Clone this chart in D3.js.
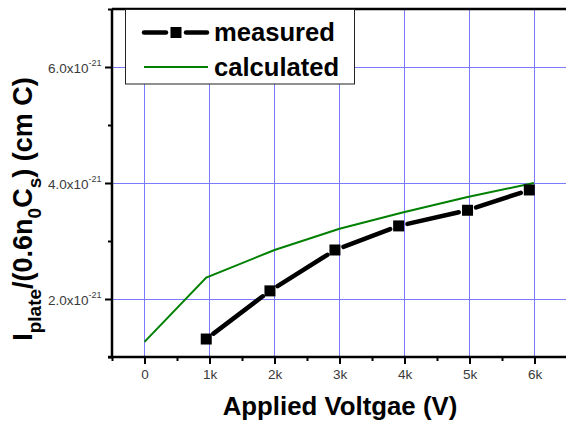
<!DOCTYPE html>
<html><head><meta charset="utf-8">
<script src="https://cdn.jsdelivr.net/npm/d3@7/dist/d3.min.js"></script>
<style>
body{margin:0;background:#fff;}
svg{display:block;font-family:"Liberation Sans",Arial,sans-serif;}
</style></head>
<body>
<script>
// ---- data ----
const measuredVoltage = [950, 1930, 2930, 3910, 4970, 5920];
const measuredValues  = [1.31e-21, 2.14e-21, 2.845e-21, 3.26e-21, 3.53e-21, 3.88e-21];
const calcVoltage     = [0, 950, 2000, 3000, 3970, 4970, 5990];
const calcValues      = [1.26e-21, 2.37e-21, 2.845e-21, 3.21e-21, 3.49e-21, 3.76e-21, 4.0e-21];
const xMajorTicks = [0, 1000, 2000, 3000, 4000, 5000, 6000];
const xTickLabels = ["0", "1k", "2k", "3k", "4k", "5k", "6k"];
const xMinorTicks = [-500, 500, 1500, 2500, 3500, 4500, 5500, 6500];
const yMajorTicks = [2e-21, 4e-21, 6e-21];
const yMinorTicks = [1e-21, 3e-21, 5e-21, 7e-21];
const legendLabels = ["measured", "calculated"];

const W = 566, H = 424;
const FF = "Liberation Sans, Arial, sans-serif";
const svg = d3.select("body").append("svg").attr("width", W).attr("height", H);

const x = d3.scaleLinear().domain([-500, 6500]).range([112, 567]);
const y = d3.scaleLinear().domain([1e-21, 7e-21]).range([357, 9]);

const grid = "#7a7aff";
// gridlines
svg.append("g").selectAll("line").data(xMajorTicks).join("line")
  .attr("x1", d => x(d)).attr("x2", d => x(d))
  .attr("y1", y(1e-21)).attr("y2", y(7e-21))
  .attr("stroke", grid).attr("stroke-width", 1).attr("shape-rendering", "crispEdges");
svg.append("g").selectAll("line").data(yMajorTicks).join("line")
  .attr("x1", x(-500)).attr("x2", W)
  .attr("y1", d => Math.round(y(d)) + 0.5).attr("y2", d => Math.round(y(d)) + 0.5)
  .attr("stroke", grid).attr("stroke-width", 1);

// axes
const xAxis = d3.axisBottom(x).tickValues(xMajorTicks).tickSize(7)
  .tickFormat((d, i) => xTickLabels[i]).tickPadding(5);
const gx = svg.append("g").attr("transform", `translate(0,${y(1e-21)})`).call(xAxis);
gx.select(".domain").remove();
gx.selectAll(".tick line").attr("stroke", "#000").attr("stroke-width", 2);
gx.selectAll(".tick text").attr("font-size", 13.5).attr("fill", "#3a3a3a")
  .attr("font-family", FF);
const gxm = svg.append("g").attr("transform", `translate(0,${y(1e-21)})`)
  .call(d3.axisBottom(x).tickValues(xMinorTicks).tickSize(4).tickFormat(""));
gxm.select(".domain").remove();
gxm.selectAll(".tick line").attr("stroke", "#000").attr("stroke-width", 2);

const yAxis = d3.axisLeft(y).tickValues(yMajorTicks).tickSize(7).tickFormat("");
const gy = svg.append("g").attr("transform", `translate(${x(-500)},0)`).call(yAxis);
gy.select(".domain").remove();
gy.selectAll(".tick line").attr("stroke", "#000").attr("stroke-width", 2);
const gym = svg.append("g").attr("transform", `translate(${x(-500)},0)`)
  .call(d3.axisLeft(y).tickValues(yMinorTicks).tickSize(4).tickFormat(""));
gym.select(".domain").remove();
gym.selectAll(".tick line").attr("stroke", "#000").attr("stroke-width", 2);

// y tick labels with superscript
const yl = svg.append("g").selectAll("text").data(yMajorTicks).join("text")
  .attr("x", 101.5).attr("y", d => y(d) + 5.5).attr("text-anchor", "end")
  .attr("font-size", 13.5).attr("fill", "#3a3a3a").attr("font-family", FF);
yl.append("tspan").text(d => (d / 1e-21).toFixed(1) + "x10");
yl.append("tspan").attr("font-size", 9).attr("dy", -7).text("-21");

// axis lines
svg.append("line").attr("x1", x(-500) - 4).attr("x2", W).attr("y1", y(1e-21)).attr("y2", y(1e-21))
  .attr("stroke", "#000").attr("stroke-width", 2.5);
svg.append("line").attr("x1", x(-500)).attr("x2", x(-500)).attr("y1", y(7e-21)).attr("y2", y(1e-21))
  .attr("stroke", "#000").attr("stroke-width", 2.5);
svg.append("line").attr("x1", x(-500)).attr("x2", W).attr("y1", y(7e-21)).attr("y2", y(7e-21))
  .attr("stroke", "#000").attr("stroke-width", 2.5);

// calculated line
const calcPts = calcVoltage.map((v, i) => [x(v), y(calcValues[i])]);
svg.append("path").attr("d", d3.line()(calcPts))
  .attr("fill", "none").attr("stroke", "#008000").attr("stroke-width", 2);

// measured line segments with gaps around markers
const mPts = measuredVoltage.map((v, i) => [x(v), y(measuredValues[i])]);
const gap = 9;
const segs = [];
for (let i = 0; i < mPts.length - 1; i++) {
  const [x1, y1] = mPts[i], [x2, y2] = mPts[i + 1];
  const dx = x2 - x1, dy = y2 - y1, L = Math.hypot(dx, dy);
  segs.push([[x1 + dx / L * gap, y1 + dy / L * gap], [x2 - dx / L * gap, y2 - dy / L * gap]]);
}
svg.append("g").selectAll("path").data(segs).join("path")
  .attr("d", d => d3.line()(d)).attr("stroke", "#000").attr("stroke-width", 4.5)
  .attr("stroke-linecap", "round").attr("fill", "none");
const ms = 11;
svg.append("g").selectAll("rect").data(mPts).join("rect")
  .attr("x", d => d[0] - ms / 2).attr("y", d => d[1] - ms / 2)
  .attr("width", ms).attr("height", ms).attr("fill", "#000");

// legend
const lg = svg.append("g");
lg.append("rect").attr("x", 125.5).attr("y", 9.5).attr("width", 229).attr("height", 74.5)
  .attr("fill", "#fff").attr("stroke", "#222").attr("stroke-width", 1);
lg.append("line").attr("x1", 144).attr("x2", 166).attr("y1", 32.5).attr("y2", 32.5)
  .attr("stroke", "#000").attr("stroke-width", 4.5).attr("stroke-linecap", "round");
lg.append("line").attr("x1", 186).attr("x2", 207).attr("y1", 32.5).attr("y2", 32.5)
  .attr("stroke", "#000").attr("stroke-width", 4.5).attr("stroke-linecap", "round");
lg.append("rect").attr("x", 176 - ms / 2).attr("y", 32.5 - ms / 2).attr("width", ms).attr("height", ms).attr("fill", "#000");
lg.append("line").attr("x1", 144).attr("x2", 208).attr("y1", 67).attr("y2", 67)
  .attr("stroke", "#008000").attr("stroke-width", 2);
lg.selectAll("text").data(legendLabels).join("text")
  .attr("x", 214).attr("y", (d, i) => i === 0 ? 41 : 75.5)
  .attr("font-size", 25.6).attr("font-weight", "bold").attr("fill", "#000").text(d => d);

// axis titles
svg.append("text").attr("x", 340).attr("y", 415).attr("text-anchor", "middle")
  .attr("font-size", 25.8).attr("font-weight", "bold").text("Applied Voltgae (V)");

const yt = svg.append("text").attr("transform", "translate(32,209) rotate(-90)")
  .attr("text-anchor", "middle").attr("font-size", 27).attr("font-weight", "bold");
yt.append("tspan").text("I");
yt.append("tspan").attr("font-size", 19).attr("dy", 9).text("plate");
yt.append("tspan").attr("dy", -9).text("/(0.6n");
yt.append("tspan").attr("font-size", 19).attr("dy", 9).text("0");
yt.append("tspan").attr("dy", -9).text("C");
yt.append("tspan").attr("font-size", 19).attr("dy", 9).text("s");
yt.append("tspan").attr("dy", -9).text(") (cm C)");
</script>
</body></html>
